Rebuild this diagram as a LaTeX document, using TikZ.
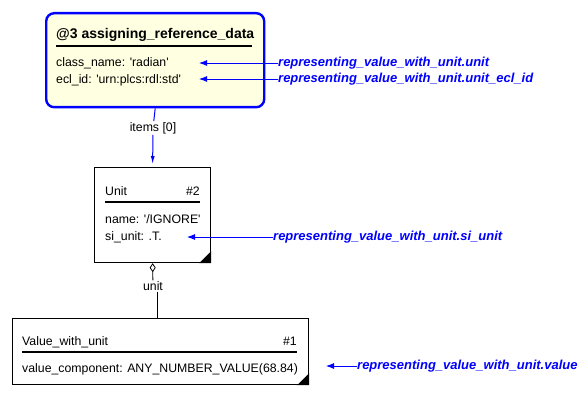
\documentclass[tikz,border=0pt]{standalone}
\usepackage{fontspec}
\setmainfont{Liberation Sans}
\usetikzlibrary{arrows.meta}
\usetikzlibrary{positioning}

\definecolor{refblue}{RGB}{0,0,255}
\definecolor{notefill}{RGB}{255,255,225}
\newcommand{\strq}{\textquotesingle}

\begin{document}
\begin{tikzpicture}[
    x=1pt, y=-1pt,
    >=Latex,
    note/.style={draw=refblue, line width=2.4pt, fill=notefill, rounded corners=8pt, anchor=north west, inner sep=0pt},
    entity/.style={draw=black, line width=1.2pt, fill=white, anchor=north west, inner sep=0pt},
    attr/.style={anchor=base west, inner sep=0pt, font=\fontsize{12.3}{14}\selectfont},
    rolelbl/.style={fill=white, inner sep=1pt, font=\fontsize{12.3}{14}\selectfont},
    pathlbl/.style={anchor=west, inner sep=0pt, text=refblue, font=\fontsize{13}{15}\selectfont\bfseries\itshape},
    ptr/.style={->, refblue, line width=0.9pt, >={Latex[length=8pt,width=6pt]}},
    sep/.style={line width=1.1pt}
]
\useasboundingbox (0,0) rectangle (583,409);

% --- Reference data instance ---
\node[note, minimum width=218pt, minimum height=94pt] (ref3) at (45,12) {};
\node[attr, font=\fontsize{14}{16}\selectfont\bfseries] (ref3title) at (56,39) {@3 assigning\_reference\_data};
\draw[sep] (56,46) -- (252,46);
\node[attr] (cname) at (56,67) {class\_name: \strq radian\strq};
\node[attr] (eclid) at (56,84) {ecl\_id: \strq urn:plcs:rdl:std\strq};

% --- Unit instance ---
\node[entity, minimum width=116pt, minimum height=95pt] (unit) at (94,167) {};
\node[attr] (unitname) at (105,195) {Unit};
\node[attr, anchor=base east] (unitid) at (200,195) {\#2};
\draw[sep] (105,202) -- (200,202);
\node[attr] (uname) at (105,223) {name: \strq/IGNORE\strq};
\node[attr] (usi) at (105,240) {si\_unit: .T.};
\fill (unit.south east) -- ++(-12,0) -- ++(12,-12) -- cycle;

% --- Value_with_unit instance ---
\node[entity, minimum width=296pt, minimum height=66pt] (value) at (12,318) {};
\node[attr] (valname) at (22,345) {Value\_with\_unit};
\node[attr, anchor=base east] (valid) at (297,345) {\#1};
\draw[sep] (22,352) -- (297,352);
\node[attr] (vcomp) at (22,372) {value\_component: ANY\_NUMBER\_VALUE(68.84)};
\fill (value.south east) -- ++(-12,0) -- ++(12,-12) -- cycle;

% --- Relations ---
\node[rolelbl] (itemslbl) at (153,128) {items [0]};
\draw[refblue, line width=1pt] (ref3.south) -- (itemslbl);
\draw[->, refblue, line width=1pt, >={Latex[length=8pt,width=4pt]}, shorten >=3pt] (itemslbl) -- (unit.north);

\node[rolelbl] (unitlbl) at (153,286) {unit};
\coordinate (vtop) at (157,318);
\draw[{Diamond[open,length=9pt,width=6pt]}-, line width=0.8pt] (unit.south) -- (unitlbl);
\draw[line width=1pt] (vtop |- unitlbl.south) -- (vtop);

% --- Mapping paths ---
\node[pathlbl] (pv1) at (278,63) {representing\_value\_with\_unit.unit};
\node[pathlbl] (pv2) at (278,79) {representing\_value\_with\_unit.unit\_ecl\_id};
\node[pathlbl] (pv3) at (273,237) {representing\_value\_with\_unit.si\_unit};
\node[pathlbl] (pv4) at (357,366) {representing\_value\_with\_unit.value};

\coordinate (pt1) at (199,63);
\coordinate (pt2) at (199,79);
\coordinate (pt3) at (187,237);
\coordinate (pt4) at (326,366);

\draw[ptr] (pv1.west) -- (pt1);
\draw[ptr] (pv2.west) -- (pt2);
\draw[ptr] (pv3.west) -- (pt3);
\draw[ptr] (pv4.west) -- (pt4);

\end{tikzpicture}
\end{document}
